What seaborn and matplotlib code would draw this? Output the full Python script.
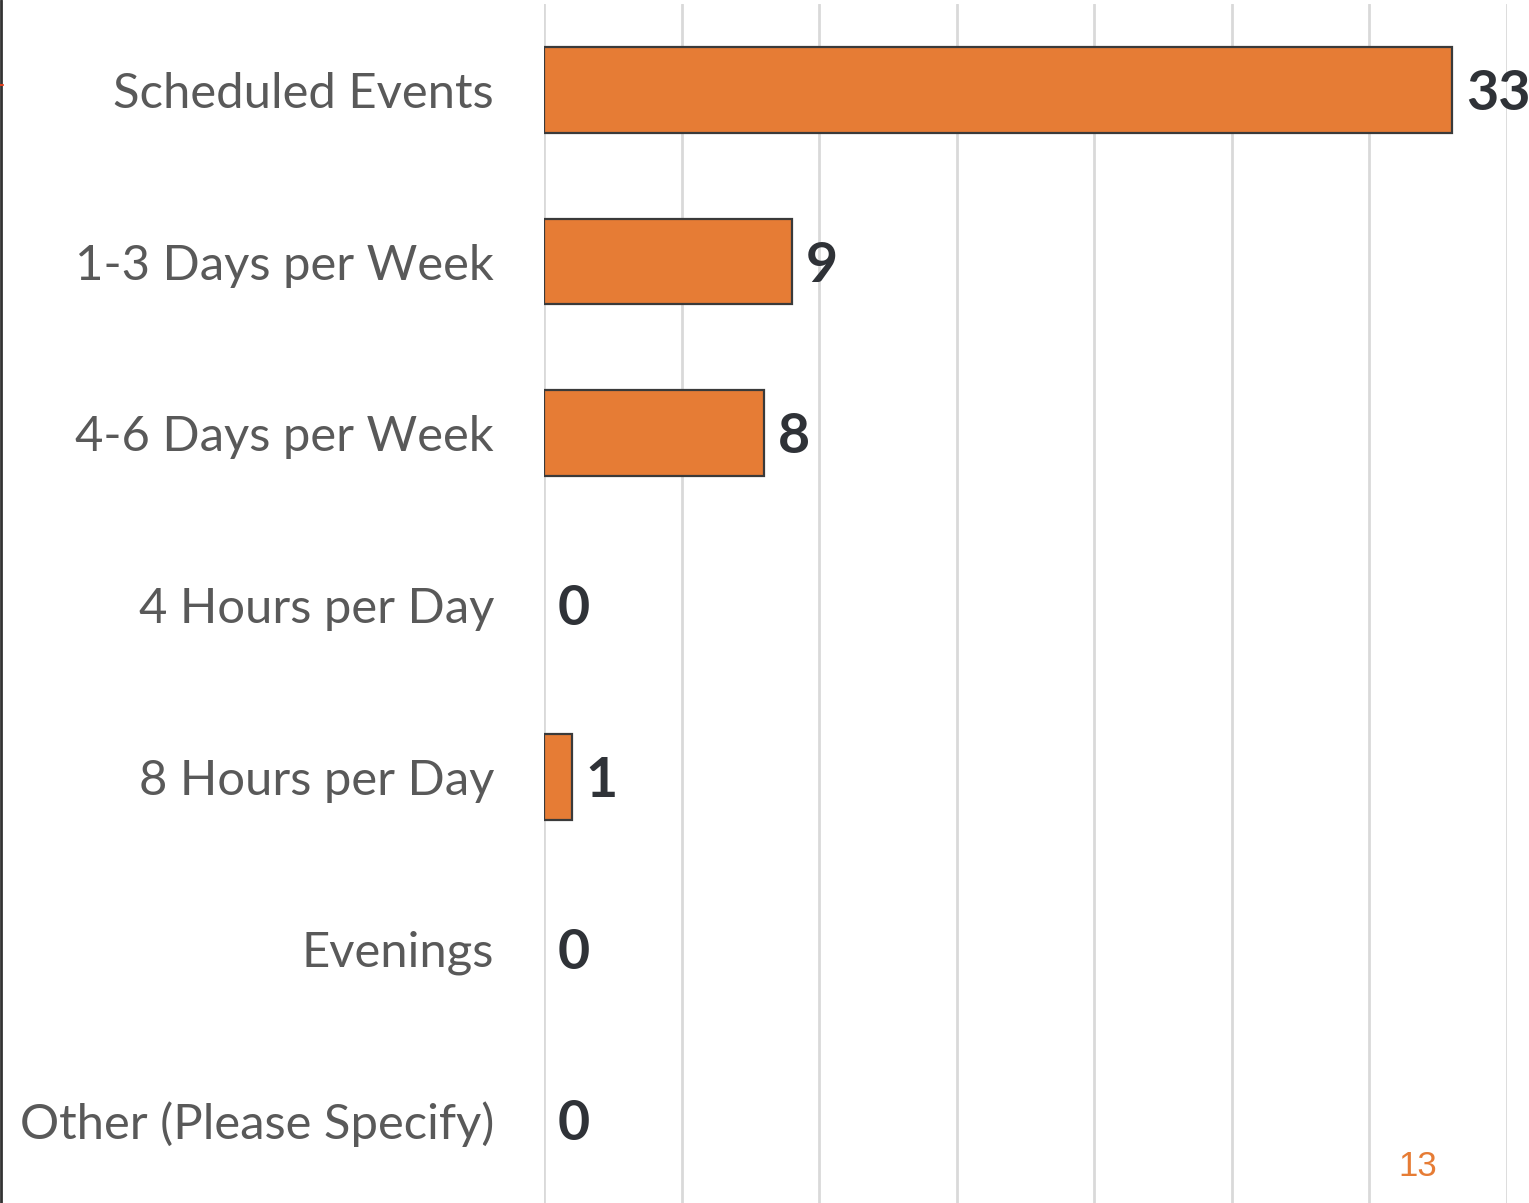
import matplotlib
matplotlib.use("Agg")
import matplotlib.pyplot as plt
import seaborn as sns
import pandas as pd
from matplotlib.lines import Line2D

categories = ["Scheduled Events", "1-3 Days per Week", "4-6 Days per Week",
              "4 Hours per Day", "8 Hours per Day", "Evenings", "Other (Please Specify)"]
counts = [33, 9, 8, 0, 1, 0, 0]
page_number = "13"

df = pd.DataFrame({"category": categories, "count": counts})

sns.set_theme(style="white")
plt.rcParams['font.family'] = ['Lato', 'DejaVu Sans']

fig = plt.figure(figsize=(15.29, 12.03), dpi=100)
ax = fig.add_axes([544/1529, 1 - 1206/1203, (1507-544)/1529, (1206-4)/1203])

sns.barplot(data=df, x="count", y="category", orient="h", color="#E67C35",
            saturation=1, width=0.5, edgecolor="#3a3a3a", linewidth=1.6, ax=ax)
for patch in ax.patches:
    if patch.get_width() == 0:
        patch.set_visible(False)

ax.set_xlim(0, 35)
ax.set_ylim(6.5, -0.5)
ax.set_xticks(range(0, 36, 5))
ax.xaxis.grid(True, color="#d9d9d9", linewidth=2)
ax.set_axisbelow(True)
ax.tick_params(axis="x", labelbottom=False, length=0)
ax.tick_params(axis="y", length=0, pad=36, labelsize=35.3, labelcolor="#595959")
for s in ax.spines.values():
    s.set_visible(False)
ax.set_xlabel("")
ax.set_ylabel("")

for i, v in enumerate(counts):
    ax.annotate(str(v), xy=(v, i), xytext=(10, -3), textcoords="offset points",
                ha="left", va="center", fontsize=40, fontweight="bold",
                color="#2f3237", annotation_clip=False)

fig.text(1418/1529, 1 - 1167/1203, page_number, ha="center", va="center",
         fontsize=25, color="#E67C35", family=["Liberation Sans", "DejaVu Sans"])

fig.add_artist(Line2D([1/1529, 1/1529], [0, 1], transform=fig.transFigure,
                      color="#333333", linewidth=2))
fig.add_artist(Line2D([0, 3/1529], [1 - 85/1203, 1 - 85/1203], transform=fig.transFigure,
                      color="#e04020", linewidth=1.5))

fig.savefig("out.png", dpi=100)
